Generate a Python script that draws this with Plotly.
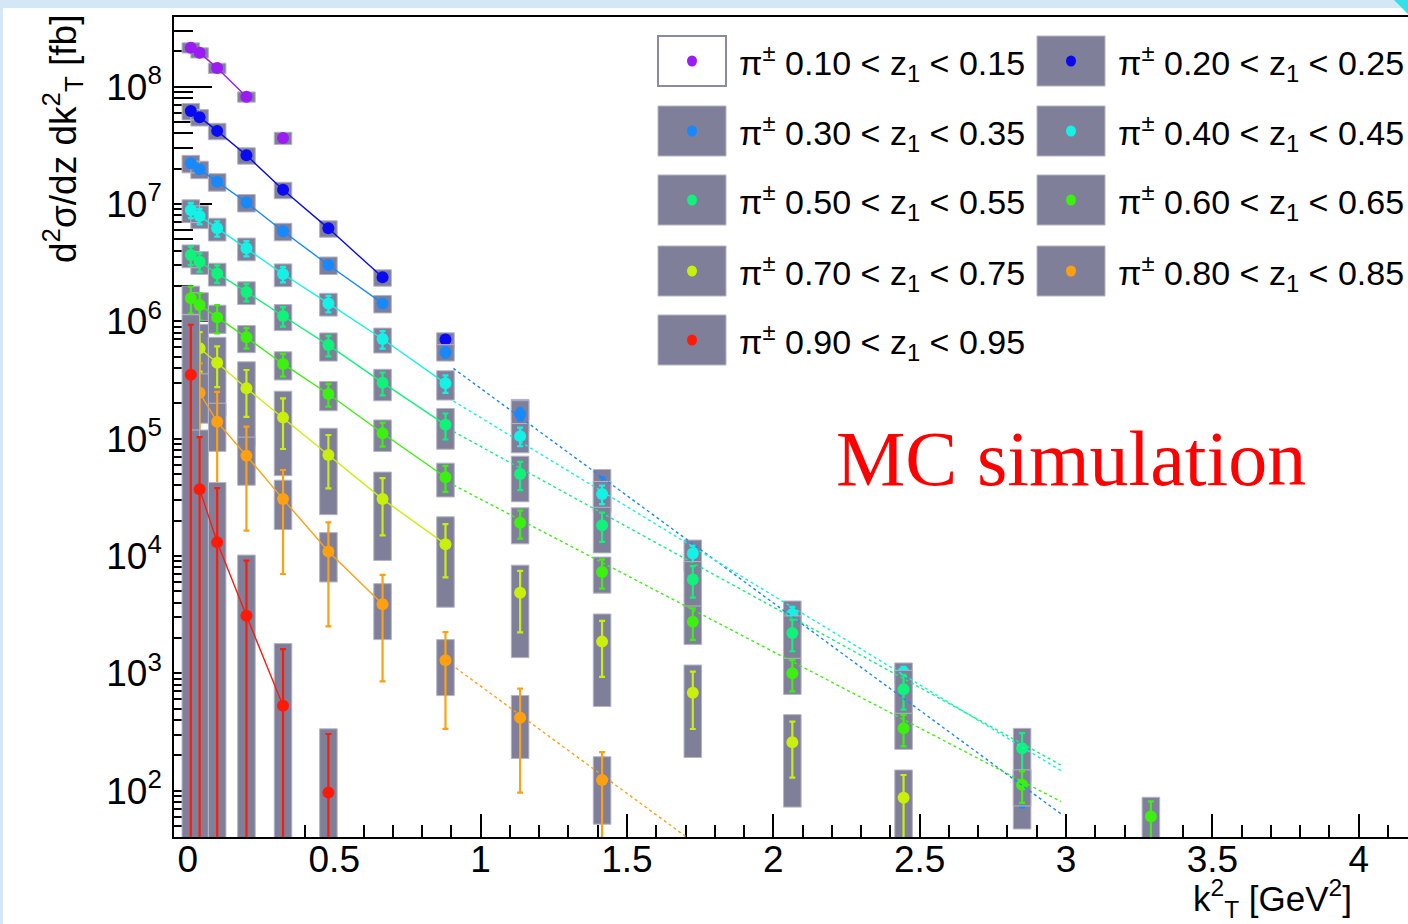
import plotly.graph_objects as go

# ---------------- data ----------------
K_BINS = [0.01, 0.04, 0.1, 0.2, 0.325, 0.48, 0.665, 0.88, 1.135, 1.415,
          1.725, 2.065, 2.445, 2.85, 3.29]

Z_LO = ["0.10", "0.20", "0.30", "0.40", "0.50", "0.60", "0.70", "0.80", "0.90"]
Z_HI = ["0.15", "0.25", "0.35", "0.45", "0.55", "0.65", "0.75", "0.85", "0.95"]
COLORS = ["#9a1cf2", "#0a0af2", "#1888ff", "#14f2e6", "#10f27a",
          "#3cf010", "#c8f00a", "#ffa010", "#ff1a08"]

# bin indices, values, relative stat. errors, relative syst. errors, points joined by solid line
P10_BINS = [0, 1, 2, 3, 4]
P10_Y = [2.15e8, 1.95e8, 1.44e8, 8.2e7, 3.65e7]
P10_STAT = [0.03, 0.03, 0.03, 0.03, 0.03]
P10_SYS = [0.1, 0.1, 0.1, 0.1, 0.12]
P10_SOLID = (0, 4)

P20_BINS = [0, 1, 2, 3, 4, 5, 6, 7, 8]
P20_Y = [6.2e7, 5.5e7, 4.2e7, 2.6e7, 1.32e7, 6.2e6, 2.37e6, 7.0e5, 1.8e5]
P20_STAT = [0.04, 0.04, 0.04, 0.04, 0.05, 0.05, 0.06, 0.08, 0.12]
P20_SYS = [0.16, 0.16, 0.16, 0.16, 0.16, 0.16, 0.16, 0.14, 0.2]
P20_SOLID = (0, 7)

P30_BINS = [0, 1, 2, 3, 4, 5, 6, 7, 8, 9, 13]
P30_Y = [2.22e7, 1.98e7, 1.55e7, 1.03e7, 5.85e6, 3.02e6, 1.42e6, 5.45e5, 1.62e5, 3.9e4, 100]
P30_STAT = [0.06, 0.06, 0.06, 0.06, 0.06, 0.07, 0.08, 0.1, 0.12, 0.2, 0.28]
P30_SYS = [0.17, 0.17, 0.17, 0.17, 0.17, 0.17, 0.17, 0.16, 0.3, 0.4, 0.53]
P30_SOLID = (0, 7)

P40_BINS = [0, 1, 2, 3, 4, 5, 6, 7, 8, 9, 10, 11, 12]
P40_Y = [8.9e6, 7.9e6, 6.2e6, 4.2e6, 2.53e6, 1.42e6, 7.06e5, 2.96e5, 1.05e5, 3.37e4, 1.05e4, 3.2e3, 1.02e3]
P40_STAT = [0.15, 0.15, 0.15, 0.15, 0.15, 0.16, 0.17, 0.17, 0.18, 0.18, 0.16, 0.15, 0.11]
P40_SYS = [0.22, 0.22, 0.22, 0.22, 0.22, 0.22, 0.24, 0.28, 0.28, 0.28, 0.3, 0.29, 0.2]
P40_SOLID = (0, 8)

P50_BINS = [0, 1, 2, 3, 4, 5, 6, 7, 8, 9, 10, 11, 12, 13]
P50_Y = [3.67e6, 3.22e6, 2.56e6, 1.78e6, 1.11e6, 6.27e5, 3.0e5, 1.31e5, 4.99e4, 1.83e4, 6.3e3, 2.2e3, 730, 229]
P50_STAT = [0.18, 0.18, 0.17, 0.17, 0.19, 0.2, 0.22, 0.25, 0.27, 0.28, 0.3, 0.3, 0.33, 0.35]
P50_SYS = [0.22, 0.22, 0.22, 0.22, 0.25, 0.27, 0.3, 0.38, 0.42, 0.42, 0.42, 0.4, 0.45, 0.48]
P50_SOLID = (0, 8)

P60_BINS = [0, 1, 2, 3, 4, 5, 6, 7, 8, 9, 10, 11, 12, 13, 14]
P60_Y = [1.57e6, 1.38e6, 1.08e6, 7.3e5, 4.33e5, 2.4e5, 1.11e5, 4.68e4, 1.92e4, 7.3e3, 2.75e3, 1.0e3, 340, 112, 60]
P60_STAT = [0.26, 0.26, 0.27, 0.2, 0.22, 0.22, 0.23, 0.25, 0.27, 0.28, 0.3, 0.3, 0.3, 0.3, 0.35]
P60_SYS = [0.27, 0.27, 0.27, 0.26, 0.27, 0.28, 0.3, 0.32, 0.34, 0.34, 0.36, 0.34, 0.34, 0.34, 0.46]
P60_SOLID = (0, 8)

P70_BINS = [1, 2, 3, 4, 5, 6, 7, 8, 9, 10, 11, 12]
P70_Y = [5.9e5, 4.43e5, 2.69e5, 1.51e5, 7.25e4, 3.05e4, 1.26e4, 4.85e3, 1.86e3, 683, 258, 87]
P70_STAT = [0.37, 0.38, 0.43, 0.46, 0.48, 0.51, 0.48, 0.54, 0.5, 0.51, 0.5, 0.56]
P70_SYS = [0.6, 0.65, 0.68, 0.68, 0.69, 0.7, 0.71, 0.72, 0.72, 0.72, 0.72, 0.72]
P70_SOLID = (0, 7)

P80_BINS = [1, 2, 3, 4, 5, 6, 7, 8, 9]
P80_Y = [2.46e5, 1.39e5, 7.15e4, 3.05e4, 1.09e4, 3.87e3, 1.29e3, 417, 123]
P80_STAT = [0.78, 0.8, 0.77, 0.77, 0.77, 0.78, 0.74, 0.77, 0.73]
P80_SYS = [0.45, 0.44, 0.44, 0.45, 0.45, 0.5, 0.5, 0.55, 0.58]
P80_SOLID = (0, 6)

P90_BINS = [0, 1, 2, 3, 4, 5]
P90_Y = [3.5e5, 3.7e4, 1.31e4, 3.09e3, 528, 96]
P90_STAT = [1.67, 1.78, 1.89, 1.95, 2.04, 2.16]
P90_SYS = [2.25, 2.2, 2.23, 2.29, 2.39, 2.5]
P90_SOLID = (1, 5)

# dashed extrapolation lines (series index, start/end)
DASH_SERIES = [2, 3, 4, 5, 7]
DASH_X_START = [0.907, 0.907, 0.907, 0.907, 0.915]
DASH_X_END = [2.985, 2.983, 2.983, 2.983, 1.75]
DASH_Y_START = [3.97e5, 2.09e5, 1.15e5, 4.02e4, 1.11e3]
DASH_Y_END = [62.7, 147.6, 164.8, 80.4, 33.0]

X_TICKS = [0, 0.5, 1, 1.5, 2, 2.5, 3, 3.5, 4]
X_TICK_TEXT = ["0", "0.5", "1", "1.5", "2", "2.5", "3", "3.5", "4"]
Y_DECADES = [2, 3, 4, 5, 6, 7, 8]

SERIES = [
    (P10_BINS, P10_Y, P10_STAT, P10_SYS, P10_SOLID),
    (P20_BINS, P20_Y, P20_STAT, P20_SYS, P20_SOLID),
    (P30_BINS, P30_Y, P30_STAT, P30_SYS, P30_SOLID),
    (P40_BINS, P40_Y, P40_STAT, P40_SYS, P40_SOLID),
    (P50_BINS, P50_Y, P50_STAT, P50_SYS, P50_SOLID),
    (P60_BINS, P60_Y, P60_STAT, P60_SYS, P60_SOLID),
    (P70_BINS, P70_Y, P70_STAT, P70_SYS, P70_SOLID),
    (P80_BINS, P80_Y, P80_STAT, P80_SYS, P80_SOLID),
    (P90_BINS, P90_Y, P90_STAT, P90_SYS, P90_SOLID),
]

# ---------------- layout constants ----------------
W, H = 1408, 924
ML, MR, MT, MB = 174, 0, 17, 87
PW, PH = W - ML - MR, H - MT - MB
X_RANGE = [-0.0475, 4.1684]
Y_RANGE = [1.604, 8.594]
BOX_HW = 0.03
BOX_FILL = "#7f7f99"
BOX_EDGE = "#b4b4c6"
FONT = "Liberation Sans"


def px(xp):
    return (xp - ML) / PW


def py(yp):
    return (H - MB - yp) / PH


fig = go.Figure()

floor = 10 ** (Y_RANGE[0] - 1)
for i, (bins, ys, stat, sysr, solid) in enumerate(SERIES):
    col = COLORS[i]
    xs = [K_BINS[b] for b in bins]
    bx, by = [], []
    for x, v, r in zip(xs, ys, sysr):
        hi = v * (1 + r)
        lo = v * (1 - r) if r < 0.98 else floor
        bx += [x - BOX_HW, x + BOX_HW, x + BOX_HW, x - BOX_HW, x - BOX_HW, None]
        by += [lo, lo, hi, hi, lo, None]
    fig.add_trace(go.Scatter(x=bx, y=by, mode="lines", fill="toself",
                             fillcolor=BOX_FILL, line=dict(color=BOX_EDGE, width=1),
                             hoverinfo="skip", showlegend=False))
    s0, s1 = solid
    fig.add_trace(go.Scatter(x=xs[s0:s1], y=ys[s0:s1], mode="lines",
                             line=dict(color=col, width=1.4),
                             hoverinfo="skip", showlegend=False))
    fig.add_trace(go.Scatter(
        x=xs, y=ys, mode="markers",
        marker=dict(color=col, size=12, line=dict(width=0)),
        error_y=dict(type="data", array=[v * s for v, s in zip(ys, stat)],
                     color=col, thickness=2.2, width=3),
        showlegend=False,
        name=f"π± {Z_LO[i]} < z1 < {Z_HI[i]}"))

for si, x0, x1, y0, y1 in zip(DASH_SERIES, DASH_X_START, DASH_X_END, DASH_Y_START, DASH_Y_END):
    fig.add_trace(go.Scatter(x=[x0, x1], y=[y0, y1], mode="lines",
                             line=dict(color=COLORS[si], width=1.4, dash="3px,3px"),
                             hoverinfo="skip", showlegend=False))

shapes = []
annotations = []

# slide decoration
shapes.append(dict(type="rect", xref="paper", yref="paper", x0=px(0), x1=px(W),
                   y0=py(8), y1=py(0), fillcolor="#d3e8f4", line=dict(width=0), layer="above"))
shapes.append(dict(type="rect", xref="paper", yref="paper", x0=px(0), x1=px(3),
                   y0=py(H), y1=py(0), fillcolor="#d3e8f4", line=dict(width=0), layer="above"))
shapes.append(dict(type="path", xref="paper", yref="paper",
                   path=f"M {px(1394)},{py(0)} L {px(W)},{py(0)} L {px(W)},{py(14)} Z",
                   fillcolor="#34e0ea", line=dict(width=0), layer="above"))

# legend (ROOT style, drawn manually)
LEG_COL_X = [658, 1037]
LEG_ROW_Y = [36, 106, 175, 246, 315]
LEG_BOX_W, LEG_BOX_H = 68, 50
for i in range(len(Z_LO)):
    c, r = i % 2, i // 2
    x0, y0 = LEG_COL_X[c], LEG_ROW_Y[r]
    if i == 0:
        shapes.append(dict(type="rect", xref="paper", yref="paper",
                           x0=px(x0), x1=px(x0 + LEG_BOX_W), y0=py(y0 + LEG_BOX_H), y1=py(y0),
                           fillcolor="white", line=dict(color="#8a8aa2", width=2), layer="above"))
    else:
        shapes.append(dict(type="rect", xref="paper", yref="paper",
                           x0=px(x0), x1=px(x0 + LEG_BOX_W), y0=py(y0 + LEG_BOX_H), y1=py(y0),
                           fillcolor=BOX_FILL, line=dict(color=BOX_EDGE, width=1), layer="above"))
    cx, cy = x0 + LEG_BOX_W / 2, y0 + LEG_BOX_H / 2
    shapes.append(dict(type="circle", xref="paper", yref="paper",
                       x0=px(cx - 5), x1=px(cx + 5), y0=py(cy + 5.5), y1=py(cy - 5.5),
                       fillcolor=COLORS[i], line=dict(width=0), layer="above"))
    annotations.append(dict(
        xref="paper", yref="paper", x=px(x0 + LEG_BOX_W + 11), y=py(cy + 2),
        xanchor="left", yanchor="middle", showarrow=False,
        text=f"π<sup>±</sup> {Z_LO[i]} < z<sub>1</sub> < {Z_HI[i]}",
        font=dict(family=FONT, size=34, color="black")))

# axis titles
annotations.append(dict(
    xref="paper", yref="paper", x=px(62), y=py(13), xanchor="center", yanchor="top",
    textangle=-90, showarrow=False,
    text="d<sup>2</sup>σ/dz dk<sup>2</sup><sub>T</sub> [fb]",
    font=dict(family=FONT, size=37, color="black")))
annotations.append(dict(
    xref="paper", yref="paper", x=px(1354), y=py(898), xanchor="right", yanchor="middle",
    showarrow=False, text="k<sup>2</sup><sub>T</sub> [GeV<sup>2</sup>]",
    font=dict(family=FONT, size=35, color="black")))
annotations.append(dict(
    xref="paper", yref="paper", x=px(1071), y=py(458), xanchor="center", yanchor="middle",
    showarrow=False, text="MC simulation",
    font=dict(family="Liberation Serif", size=78, color="#ff0000")))

minor_y = [m * 10 ** d for d in range(1, 9) for m in range(2, 10)]

fig.update_layout(
    width=W, height=H,
    margin=dict(l=ML, r=MR, t=MT, b=MB, pad=0),
    paper_bgcolor="white", plot_bgcolor="white",
    showlegend=False,
    shapes=shapes, annotations=annotations,
    font=dict(family=FONT, color="black"),
    xaxis=dict(range=X_RANGE, showgrid=False, zeroline=False,
               showline=True, linecolor="black", linewidth=1.5, mirror=True,
               ticks="inside", ticklen=23, tickwidth=1.5, tickcolor="black",
               tickvals=X_TICKS, ticktext=X_TICK_TEXT,
               tickfont=dict(family=FONT, size=37, color="black"),
               ticklabelstandoff=-11,
               minor=dict(ticks="inside", ticklen=12, tickwidth=1.5, tickcolor="black",
                          dtick=0.1, tick0=0, showgrid=False),
               layer="below traces"),
    yaxis=dict(type="log", range=Y_RANGE, showgrid=False, zeroline=False,
               showline=True, linecolor="black", linewidth=1.5, mirror=False,
               ticks="inside", ticklen=38, tickwidth=1.5, tickcolor="black",
               tickvals=[10 ** d for d in Y_DECADES],
               ticktext=[f"10<sup>{d}</sup>" for d in Y_DECADES],
               tickfont=dict(family=FONT, size=37, color="black"),
               ticklabelstandoff=3,
               minor=dict(ticks="inside", ticklen=19, tickwidth=1.5, tickcolor="black",
                          tickvals=minor_y, showgrid=False),
               layer="below traces"),
)

fig.write_html("out.html", config={"displayModeBar": False})
